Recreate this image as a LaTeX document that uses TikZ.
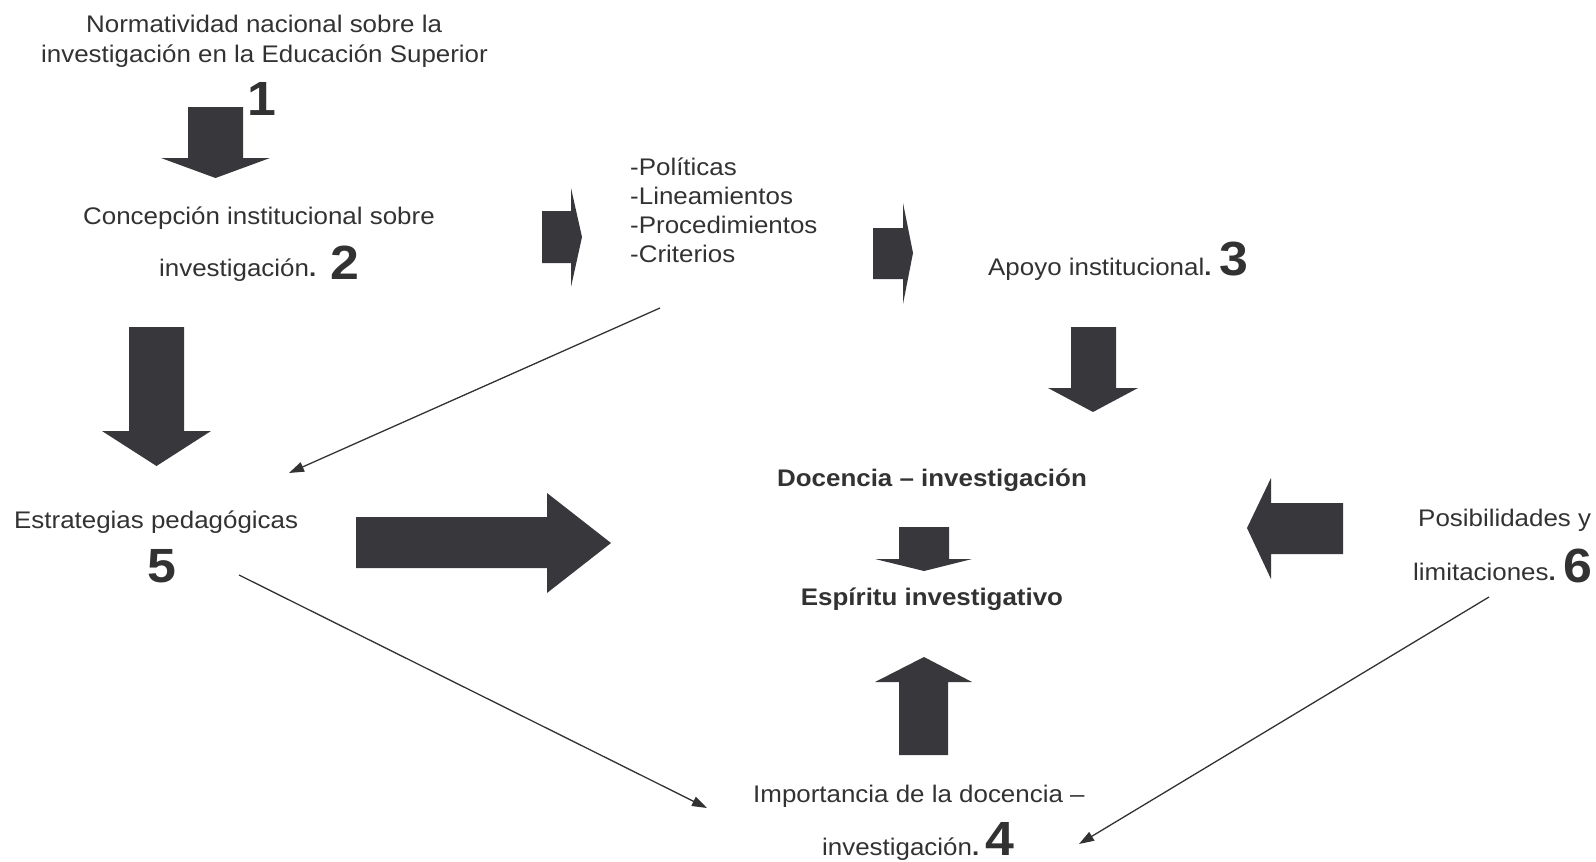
\documentclass[tikz,border=0pt]{standalone}
\usepackage{fontspec}
\setmainfont{Liberation Sans}[FakeStretch=1.08]
\usepackage{tikz}
\usetikzlibrary{arrows.meta, calc, positioning}
\usepackage{xcolor}
\definecolor{arrowgray}{RGB}{56,55,60}
\definecolor{textgray}{RGB}{50,50,50}

\tikzset{
  txt/.style={text=textgray, inner sep=0pt, font=\fontsize{24}{30}\selectfont},
  bold/.style={txt, font=\fontsize{24}{30}\selectfont\bfseries},
  num/.style={text=textgray, inner sep=0pt, font=\fontsize{48}{48}\selectfont\bfseries},
  blockarrow/.style={fill=arrowgray},
  link/.style={draw=textgray, line width=1.3pt, -{Triangle[length=15pt,width=10pt]}}
}

\begin{document}
\begin{tikzpicture}[x=1pt, y=-1pt]
  \useasboundingbox (0,0) rectangle (1596,862);

  % texts
  \node[txt, anchor=base west] (norma1) at (86,32) {Normatividad nacional sobre la};
  \node[txt, anchor=base west] (norma2) at (41,62) {investigación en la Educación Superior};
  \node[num, anchor=base] (n1) at (262,115) {1};
  \node[txt, anchor=base west] (concep1) at (83,224) {Concepción institucional sobre};
  \node[txt, anchor=base west] (concep2) at (159,276) {investigación\textbf{.}};
  \node[num, anchor=base] (n2) at (345,279) {2};
  \foreach \t [count=\i] in {Políticas, Lineamientos, Procedimientos, Criterios}
    \node[txt, anchor=base west] (crit\i) at (630,{175+29.3*(\i-1)}) {-\t};
  \node[txt, anchor=base west] (apoyo) at (988,275) {Apoyo institucional\textbf{.}};
  \node[num, anchor=base] (n3) at (1233.5,275) {3};
  \node[bold, anchor=base] (docencia) at (932,486) {Docencia – investigación};
  \node[bold, anchor=base] (espiritu) at (932,605) {Espíritu investigativo};
  \node[txt, anchor=base west] (estrat) at (14,528) {Estrategias pedagógicas};
  \node[num, anchor=base] (n5) at (161.5,582) {5};
  \node[txt, anchor=base west] (posib) at (1418,526) {Posibilidades y};
  \node[txt, anchor=base west] (limit) at (1413,580) {limitaciones\textbf{.}};
  \node[num, anchor=base] (n6) at (1578,582) {6};
  \node[txt, anchor=base west] (import1) at (753,802) {Importancia de la docencia –};
  \node[txt, anchor=base west] (import2) at (822,855) {investigación\textbf{.}};
  \node[num, anchor=base] (n4) at (999.5,855) {4};

  % block arrows
  \fill[blockarrow] (188,107) -- (243,107) -- (243,158) -- (270,158) -- (215.5,178) -- (161,158) -- (188,158) -- cycle;
  \fill[blockarrow] (129,327) -- (184,327) -- (184,431) -- (211,431) -- (156.5,466) -- (102,431) -- (129,431) -- cycle;
  \fill[blockarrow] (1071,327) -- (1116,327) -- (1116,388) -- (1138,388) -- (1093,412) -- (1048,388) -- (1071,388) -- cycle;
  \fill[blockarrow] (542,211) -- (571,211) -- (571,188) -- (582,237) -- (571,287) -- (571,263) -- (542,263) -- cycle;
  \fill[blockarrow] (873,228) -- (903,228) -- (903,203) -- (913,253) -- (903,304) -- (903,279) -- (873,279) -- cycle;
  \fill[blockarrow] (356,517) -- (547,517) -- (547,493) -- (611,543) -- (547,593) -- (547,568) -- (356,568) -- cycle;
  \fill[blockarrow] (899,527) -- (949,527) -- (949,559) -- (972,559) -- (924,571) -- (875,559) -- (899,559) -- cycle;
  \fill[blockarrow] (899,755) -- (948,755) -- (948,682) -- (972,682) -- (924,657) -- (875,682) -- (899,682) -- cycle;
  \fill[blockarrow] (1343,503) -- (1343,554) -- (1271,554) -- (1271,579) -- (1247,528) -- (1271,478) -- (1271,503) -- cycle;

  % thin links
  \coordinate (critout) at (660,308);
  \coordinate (estratin) at (289,473);
  \coordinate (estratout) at (239,575);
  \coordinate (importin) at (707,808);
  \coordinate (limitout) at (1489,597);
  \coordinate (import2in) at (1079,844);
  \draw[link] (critout) -- (estratin);
  \draw[link] (estratout) -- (importin);
  \draw[link] (limitout) -- (import2in);
\end{tikzpicture}
\end{document}
